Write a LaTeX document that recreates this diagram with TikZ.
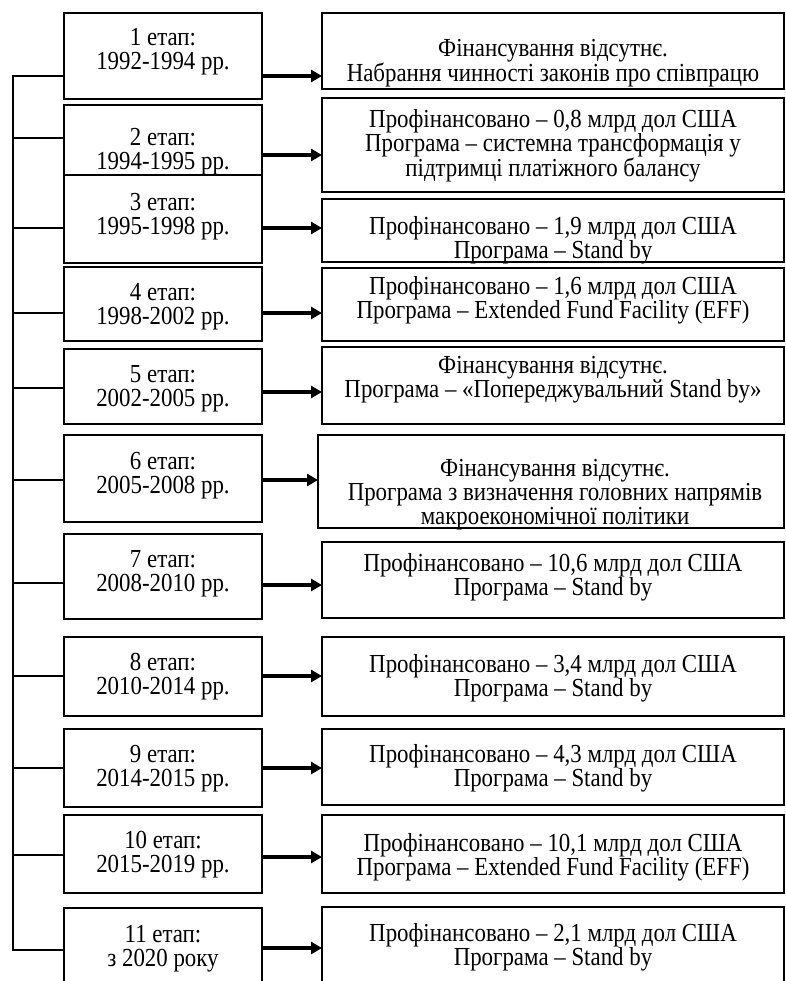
\documentclass[tikz,border=0pt]{standalone}
\usepackage{fontspec}
\setmainfont[FakeStretch=0.88]{Liberation Serif}
\usetikzlibrary{arrows.meta,calc}
\tikzset{
  bx/.style={draw=black, line width=2.3pt, inner sep=0pt, outer sep=0pt, rectangle},
  txt/.style={align=center, inner sep=0pt, yshift=-4pt, font=\fontsize{26}{24}\selectfont},
  arr/.style={line width=3.6pt, -{Triangle[length=11pt,width=12pt]}},
  bus/.style={line width=2pt}
}
\newcommand{\bx}[5]{\node[bx, minimum width={#4-#2}, minimum height={#5-#3}] (#1) at ({(#2+#4)/2},{(#3+#5)/2}) {};}
\begin{document}
\begin{tikzpicture}[x=1pt,y=-1pt]
\clip (0,0) rectangle (785,981);
\fill[white] (0,0) rectangle (785,981);
% left boxes
\bx{L1}{64}{13}{262}{99}
\bx{L2}{64}{105}{262}{175}
\bx{L3}{64}{175}{262}{263}
\bx{L4}{64}{267}{262}{341}
\bx{L5}{64}{349}{262}{424}
\bx{L6}{64}{435}{262}{522}
\bx{L7}{64}{534}{262}{619}
\bx{L8}{64}{637}{262}{716}
\bx{L9}{64}{729}{262}{807}
\bx{L10}{64}{815}{262}{893}
\bx{L11}{64}{908}{262}{995}
% right boxes
\bx{R1}{322}{13}{784}{89}
\bx{R2}{322}{98}{784}{192}
\bx{R3}{322}{199}{784}{262}
\bx{R4}{322}{268}{784}{341}
\bx{R5}{322}{347}{784}{424}
\bx{R6}{318}{435}{784}{528}
\bx{R7}{322}{542}{784}{618}
\bx{R8}{322}{637}{784}{716}
\bx{R9}{322}{729}{784}{805}
\bx{R10}{322}{815}{784}{893}
\bx{R11}{322}{907}{784}{995}
% left texts
\node[txt] (tL1) at (163,48) {1 етап:\\1992-1994 рр.};
\node[txt] (tL2) at (163,148) {2 етап:\\1994-1995 рр.};
\node[txt] (tL3) at (163,213) {3 етап:\\1995-1998 рр.};
\node[txt] (tL4) at (163,303) {4 етап:\\1998-2002 рр.};
\node[txt] (tL5) at (163,385) {5 етап:\\2002-2005 рр.};
\node[txt] (tL6) at (163,472) {6 етап:\\2005-2008 рр.};
\node[txt] (tL7) at (163,570) {7 етап:\\2008-2010 рр.};
\node[txt] (tL8) at (163,673) {8 етап:\\2010-2014 рр.};
\node[txt] (tL9) at (163,765) {9 етап:\\2014-2015 рр.};
\node[txt] (tL10) at (163,851) {10 етап:\\2015-2019 рр.};
\node[txt] (tL11) at (163,945) {11 етап:\\з 2020 року};
% right texts
\node[txt] (tR1) at (553,59) {Фінансування відсутнє.\\Набрання чинності законів про співпрацю};
\node[txt] (tR2) at (553,142) {Профінансовано – 0,8 млрд дол США\\Програма – системна трансформація у\\підтримці платіжного балансу};
\node[txt] (tR3) at (553,236) {Профінансовано – 1,9 млрд дол США\\Програма – Stand by};
\node[txt] (tR4) at (553,296) {Профінансовано – 1,6 млрд дол США\\Програма – Extended Fund Facility (EFF)};
\node[txt] (tR5) at (553,376) {Фінансування відсутнє.\\Програма – «Попереджувальний Stand by»};
\node[txt] (tR6) at (555,491) {Фінансування відсутнє.\\Програма з визначення головних напрямів\\макроекономічної політики};
\node[txt] (tR7) at (553,573) {Профінансовано – 10,6 млрд дол США\\Програма – Stand by};
\node[txt] (tR8) at (553,674) {Профінансовано – 3,4 млрд дол США\\Програма – Stand by};
\node[txt] (tR9) at (553,764) {Профінансовано – 4,3 млрд дол США\\Програма – Stand by};
\node[txt] (tR10) at (553,853) {Профінансовано – 10,1 млрд дол США\\Програма – Extended Fund Facility (EFF)};
\node[txt] (tR11) at (553,943) {Профінансовано – 2,1 млрд дол США\\Програма – Stand by};
% arrows
\draw[arr] (L1.east |- 0,76) -- (R1.west |- 0,76);
\draw[arr] (L2.east |- 0,155) -- (R2.west |- 0,155);
\draw[arr] (L3.east |- 0,228) -- (R3.west |- 0,228);
\draw[arr] (L4.east |- 0,313) -- (R4.west |- 0,313);
\draw[arr] (L5.east |- 0,392) -- (R5.west |- 0,392);
\draw[arr] (L6.east |- 0,480) -- (R6.west |- 0,480);
\draw[arr] (L7.east |- 0,585) -- (R7.west |- 0,585);
\draw[arr] (L8.east |- 0,676) -- (R8.west |- 0,676);
\draw[arr] (L9.east |- 0,768) -- (R9.west |- 0,768);
\draw[arr] (L10.east |- 0,857) -- (R10.west |- 0,857);
\draw[arr] (L11.east |- 0,948) -- (R11.west |- 0,948);
% bus
\coordinate (bustop) at (13,76);
\coordinate (busbot) at (13,950);
\draw[bus] (L1.west |- bustop) -- (bustop) -- (busbot) -- (L11.west |- busbot);
\draw[bus] (13,138) -- (L2.west |- 0,138);
\draw[bus] (13,228) -- (L3.west |- 0,228);
\draw[bus] (13,313) -- (L4.west |- 0,313);
\draw[bus] (13,388) -- (L5.west |- 0,388);
\draw[bus] (13,480) -- (L6.west |- 0,480);
\draw[bus] (13,583) -- (L7.west |- 0,583);
\draw[bus] (13,676) -- (L8.west |- 0,676);
\draw[bus] (13,768) -- (L9.west |- 0,768);
\draw[bus] (13,855) -- (L10.west |- 0,855);
\end{tikzpicture}
\end{document}
